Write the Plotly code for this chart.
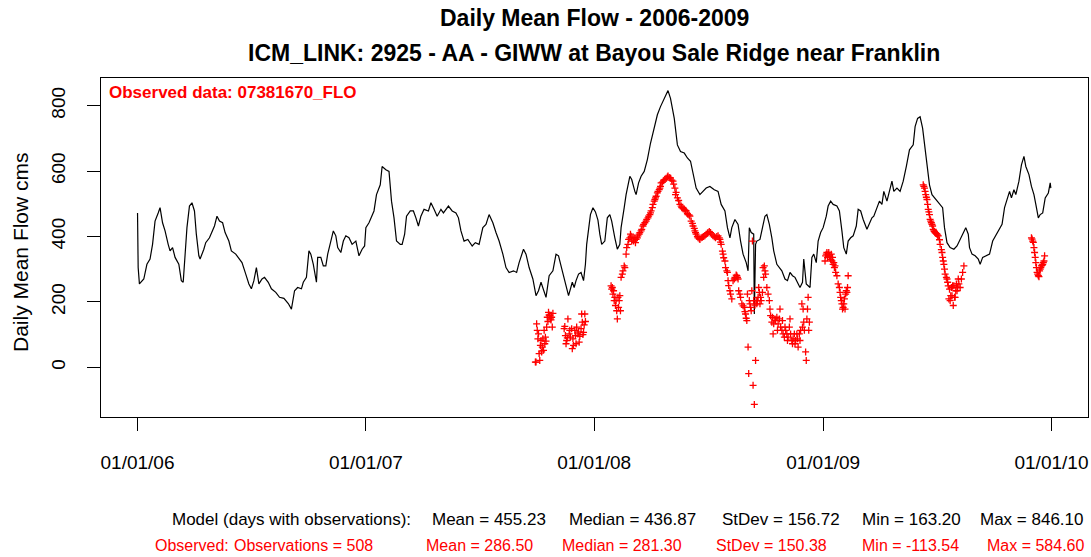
import pandas as pd
import plotly.graph_objects as go

# ---------------- data ----------------
start_date = "2006-01-01"

model_day = [0, 1, 3, 10, 15, 20, 24, 28, 33, 36, 40, 44, 49, 52, 56, 60, 66, 70, 73, 76,
             79, 83, 87, 91, 94, 98, 100, 106, 109, 115, 119, 123, 127, 131, 136, 140, 146, 150, 157, 163,
             167, 173, 178, 182, 186, 190, 194, 199, 203, 209, 214, 221, 227, 234, 241, 246, 251, 256, 262, 265,
             270, 274, 277, 281, 286, 288, 293, 297, 301, 304, 309, 313, 317, 320, 325, 329, 333, 338, 343, 349,
             354, 359, 363, 365, 370, 374, 378, 382, 388, 391, 397, 402, 406, 410, 414, 420, 423, 427, 430, 436,
             441, 445, 449, 453, 458, 465, 469, 474, 479, 485, 489, 497, 503, 509, 513, 517, 522, 528, 535, 540,
             546, 552, 557, 562, 568, 573, 578, 584, 589, 594, 601, 606, 610, 617, 621, 626, 632, 637, 641, 645,
             649, 653, 658, 664, 669, 673, 679, 684, 689, 695, 698, 701, 705, 709, 713, 716, 718, 724, 728, 732,
             736, 739, 742, 747, 751, 755, 758, 763, 767, 771, 773, 778, 781, 787, 790, 795, 797, 801, 805, 810,
             815, 820, 826, 831, 836, 843, 848, 852, 858, 863, 868, 874, 879, 884, 889, 893, 899, 904, 909, 915,
             922, 928, 933, 939, 943, 947, 950, 955, 960, 964, 968, 973, 976, 978, 981, 985, 986, 988, 990, 995,
             999, 1003, 1006, 1010, 1014, 1017, 1022, 1026, 1030, 1035, 1039, 1043, 1047, 1051, 1055, 1059, 1063, 1065, 1069, 1072,
             1075, 1078, 1081, 1085, 1088, 1092, 1096, 1101, 1104, 1108, 1112, 1118, 1122, 1126, 1129, 1133, 1136, 1140, 1144, 1149,
             1152, 1156, 1160, 1166, 1170, 1174, 1177, 1182, 1186, 1190, 1193, 1198, 1202, 1206, 1209, 1214, 1219, 1224, 1229, 1234,
             1240, 1243, 1247, 1251, 1255, 1258, 1262, 1266, 1270, 1274, 1278, 1283, 1287, 1290, 1294, 1299, 1305, 1310, 1315, 1321,
             1324, 1328, 1330, 1334, 1339, 1344, 1347, 1351, 1356, 1362, 1367, 1372, 1377, 1382, 1386, 1390, 1394, 1397, 1401, 1404,
             1409, 1413, 1417, 1420, 1425, 1429, 1433, 1436, 1440, 1443, 1447, 1451, 1456, 1459, 1460]

model_flow = [472, 305, 255, 270, 315, 331, 376, 447, 472, 488, 442, 417, 376, 356, 366, 336, 315, 265, 260, 336,
              427, 493, 503, 478, 407, 341, 331, 361, 381, 396, 412, 432, 462, 447, 442, 412, 386, 356, 346, 331,
              320, 285, 255, 240, 265, 305, 255, 270, 275, 260, 240, 229, 214, 211, 195, 178, 234, 244, 240, 260,
              275, 356, 346, 315, 260, 336, 336, 310, 310, 346, 386, 417, 402, 366, 351, 386, 402, 396, 376, 386,
              341, 361, 371, 427, 442, 462, 478, 528, 558, 614, 604, 599, 508, 457, 386, 376, 376, 407, 462, 478,
              478, 457, 432, 462, 483, 478, 503, 483, 462, 483, 472, 493, 478, 472, 457, 417, 386, 391, 371, 381,
              376, 427, 437, 467, 442, 412, 386, 346, 305, 290, 295, 290, 320, 361, 346, 305, 270, 219, 234, 260,
              240, 214, 280, 295, 346, 341, 295, 255, 219, 260, 244, 265, 285, 290, 265, 315, 376, 467, 488, 475,
              450, 407, 376, 386, 457, 467, 447, 396, 361, 376, 427, 488, 528, 584, 574, 538, 528, 564, 584, 599,
              635, 685, 731, 772, 797, 827, 846, 822, 761, 680, 660, 655, 640, 630, 589, 548, 528, 538, 548, 553,
              543, 538, 498, 478, 427, 396, 427, 452, 437, 386, 346, 320, 295, 427, 412, 407, 163, 376, 386, 391,
              422, 462, 467, 437, 396, 356, 315, 305, 295, 270, 265, 290, 280, 275, 260, 244, 260, 331, 255, 249,
              244, 336, 346, 320, 386, 412, 427, 462, 493, 508, 498, 493, 478, 417, 366, 346, 386, 396, 402, 432,
              483, 478, 452, 422, 437, 457, 462, 488, 508, 498, 538, 508, 543, 569, 538, 548, 538, 569, 614, 665,
              680, 736, 761, 766, 731, 680, 614, 558, 528, 518, 508, 498, 488, 427, 381, 366, 361, 371, 391, 412,
              427, 407, 366, 346, 341, 331, 315, 336, 341, 346, 386, 402, 422, 437, 488, 513, 538, 518, 543, 528,
              569, 619, 645, 614, 589, 553, 528, 498, 457, 467, 472, 518, 533, 564, 548]

obs_day = [636, 637, 638, 639, 640, 641, 642, 643, 644, 645, 646, 647, 648, 649, 650, 651, 652, 653, 654, 655,
           656, 657, 658, 659, 660, 661, 662, 663, 664,
           682, 683, 684, 685, 686, 687, 688, 690, 691, 692, 694, 695, 696, 697, 699, 700, 701, 702, 704, 705,
           706, 707, 709, 710, 711, 712, 713, 714, 715, 716,
           757, 758, 759, 760, 761, 762, 763, 764, 765, 766, 767, 768, 769, 770, 771, 772, 773, 775, 776, 778,
           779, 781, 782, 784, 785, 787, 788, 789, 790, 792, 793, 795, 796, 797, 799, 800, 802, 803, 805, 806,
           808, 809, 811, 813, 814, 816, 817, 819, 820, 821, 823, 824, 826, 827, 828, 829, 831, 832, 834, 835,
           836, 837, 839, 841, 843, 845, 847, 848, 850, 852, 854, 856, 857, 859, 860, 861, 863, 865, 867, 869,
           870, 872, 874, 876, 877, 879, 880, 882, 883, 885, 887, 888, 890, 891, 892, 893, 895, 896, 898, 899,
           901, 903, 905, 907, 909, 911, 912, 914, 916, 918, 920, 922, 924, 926, 928, 930, 931, 932, 933, 935,
           936, 937, 939, 940, 942, 943, 944, 945, 947, 948, 950, 952, 954, 955, 957, 958, 959, 960, 961, 963,
           964, 966, 968, 970, 971, 972, 973, 974, 975, 976, 977, 978, 979, 980, 981, 982, 983, 984, 985, 986,
           987, 988, 989, 990, 991, 992, 993, 994, 995, 996, 997, 999, 1000, 1001, 1002, 1003, 1004, 1006, 1008, 1010,
           1011, 1012, 1014, 1015, 1016, 1017, 1019, 1020, 1022, 1023, 1024, 1026, 1027, 1028, 1030, 1031, 1032, 1034, 1035, 1036,
           1038, 1039, 1040, 1042, 1043, 1044, 1046, 1047, 1048, 1050, 1051, 1052, 1054, 1055, 1056, 1058, 1059, 1060, 1062, 1063,
           1064, 1065, 1066, 1068, 1069, 1070, 1071, 1072, 1073, 1074,
           1099, 1100, 1101, 1102, 1103, 1104, 1105, 1106, 1107, 1108, 1109, 1110, 1111, 1112, 1113, 1114, 1115, 1116, 1118, 1120,
           1122, 1123, 1124, 1125, 1126, 1127, 1128, 1129, 1130, 1131, 1132, 1133, 1134, 1135, 1136,
           1256, 1257, 1258, 1259, 1260, 1261, 1262, 1263, 1264, 1265, 1266, 1267, 1268, 1269, 1270, 1271, 1272, 1273, 1274, 1275,
           1276, 1277, 1278, 1279, 1280, 1282, 1283, 1285, 1286, 1287, 1288, 1289, 1290, 1291, 1293, 1294, 1295, 1296, 1297, 1298,
           1299, 1300, 1301, 1302, 1303, 1304, 1305, 1306, 1307, 1308, 1309, 1310, 1311, 1312, 1313, 1315, 1317, 1319, 1321,
           1429, 1430, 1431, 1432, 1433, 1434, 1435, 1436, 1437, 1438, 1439, 1440, 1441, 1442, 1443, 1444, 1445, 1446, 1447, 1448,
           1449, 1450]

obs_flow = [16, 16, 133, 113, 87, 102, 42, 21, 67, 82, 47, 62, 87, 52, 113, 72, 92, 80, 123, 153,
            140, 168, 160, 158, 148, 145, 153, 123, 165,
            118, 125, 97, 72, 82, 90, 148, 102, 113, 92, 118, 57, 87, 67, 113, 97, 72, 123, 102, 108,
            77, 95, 118, 163, 138, 100, 107, 130, 163, 140,
            249, 239, 244, 224, 234, 204, 214, 189, 204, 173, 148, 214, 183, 204, 219, 173, 275, 285, 295, 310,
            305, 346, 366, 376, 391, 396, 407, 401, 386, 396, 386, 396, 381, 391, 396, 402, 407, 412, 417, 422,
            432, 437, 442, 447, 452, 457, 462, 467, 472, 478, 488, 498, 508, 513, 518, 523, 533, 538, 543, 548,
            553, 564, 566, 570, 574, 578, 582, 584.6, 580, 579, 572, 569, 560, 548, 528, 535, 518, 510, 498, 493,
            488, 485, 483, 480, 478, 470, 467, 465, 462, 447, 440, 432, 425, 417, 412, 407, 400, 396, 393, 391,
            396, 398, 400, 402, 407, 410, 412, 415, 412, 407, 402, 399, 396, 400, 402, 396, 391, 383, 376, 355,
            346, 335, 325, 305, 295, 290, 265, 250, 234, 224, 209, 265, 270, 275, 282, 280, 275, 270, 234, 224,
            214, 194, 188, 183, 170, 163, 150, 143, 224, 62, -19, 204, 194, 183, 173, 234, 386, -55, 204, -113.54,
            190, 21, 204, 194, 204, 214, 244, 229, 194, 214, 204, 229, 305, 275, 310, 295, 285, 244, 224, 204,
            178, 158, 138, 153, 102, 133, 148, 143, 153, 113, 133, 148, 178, 123, 113, 143, 102, 92, 123, 113,
            102, 82, 92, 123, 148, 102, 82, 72, 87, 102, 72, 82, 102, 87, 62, 102, 82, 113, 194, 123,
            178, 138, 113, 47, 21, 148, 178, 214, 113, 138,
            325, 341, 346, 351, 336, 346, 351, 341, 336, 330, 346, 325, 336, 315, 320, 305, 310, 290, 280, 255,
            244, 229, 214, 204, 194, 178, 183, 194, 209, 178, 224, 234, 229, 244, 280,
            558, 553, 548, 538, 528, 520, 513, 498, 483, 475, 467, 452, 447, 442, 437, 432, 422, 417, 415, 412,
            410, 409, 407, 404, 402, 390, 376, 360, 351, 336, 325, 315, 300, 285, 275, 270, 260, 249, 209, 239,
            204, 219, 244, 219, 249, 189, 249, 214, 214, 234, 255, 234, 244, 270, 255, 244, 270, 290, 310,
            396, 392, 386, 382, 366, 351, 336, 320, 305, 290, 285, 280, 277, 295, 300, 305, 310, 312, 315, 320,
            325, 341]

tick_dates = ["2006-01-01", "2007-01-01", "2008-01-01", "2009-01-01", "2010-01-01"]
tick_labels = ["01/01/06", "01/01/07", "01/01/08", "01/01/09", "01/01/10"]
y_ticks = [0, 200, 400, 600, 800]

title_1 = "Daily Mean Flow - 2006-2009"
title_2 = "ICM_LINK: 2925 - AA - GIWW at Bayou Sale Ridge near Franklin"
obs_label = "Observed data: 07381670_FLO"
y_title = "Daily Mean Flow cms"

model_stats = ["Model (days with observations):", "Mean = 455.23", "Median = 436.87",
               "StDev = 156.72", "Min = 163.20", "Max = 846.10"]
obs_stats = ["Observed:", "Observations = 508", "Mean = 286.50", "Median = 281.30",
             "StDev = 150.38", "Min = -113.54", "Max = 584.60"]

assert len(model_day) == len(model_flow)
assert len(obs_day) == len(obs_flow)

# ---------------- figure ----------------
t0 = pd.Timestamp(start_date)
model_x = t0 + pd.to_timedelta(model_day, unit="D")
obs_x = t0 + pd.to_timedelta(obs_day, unit="D")

W, H = 1091, 557
L, R, T, B = 101, 1088, 78, 417  # plot area in pixels

def fx(px):
    return (px - L) / (R - L)

def fy(py):
    return (B - py) / (B - T)

FONT = "Arial, Liberation Sans, sans-serif"

fig = go.Figure()
fig.add_trace(go.Scatter(x=model_x, y=model_flow, mode="lines",
                         line=dict(color="black", width=1.2), showlegend=False,
                         name="Model"))
fig.add_trace(go.Scatter(x=obs_x, y=obs_flow, mode="markers",
                         marker=dict(symbol="cross-thin", size=5, color="red",
                                     line=dict(color="red", width=1.3)),
                         showlegend=False, name="Observed"))

x_lo = pd.Timestamp("2006-01-01") - pd.Timedelta(days=58.4)
x_hi = pd.Timestamp("2010-01-01") + pd.Timedelta(days=58.4)

fig.update_layout(
    width=W, height=H,
    margin=dict(l=L, r=W - R, t=T, b=H - B, pad=0),
    paper_bgcolor="white", plot_bgcolor="white",
    font=dict(family=FONT, color="black", size=19),
    xaxis=dict(range=[x_lo, x_hi], tickmode="array", tickvals=tick_dates, ticktext=tick_labels,
               showgrid=False, zeroline=False, showline=True, mirror=True, linecolor="black",
               linewidth=1, ticks="outside", ticklen=13, tickwidth=1, tickcolor="black",
               ticklabelstandoff=15, tickfont=dict(size=19)),
    yaxis=dict(range=[-151.9, 884.5], tickmode="array", tickvals=y_ticks,
               showgrid=False, zeroline=False, showline=True, mirror=True, linecolor="black",
               linewidth=1, ticks="outside", ticklen=13, tickwidth=1, tickcolor="black",
               tickangle=-90, ticklabelstandoff=14, tickfont=dict(size=19)),
)

ann = []
ann.append(dict(text="<b>" + title_1 + "</b>", x=fx(594), y=fy(18), xref="paper", yref="paper",
                xanchor="center", yanchor="middle", showarrow=False, font=dict(size=23, color="black")))
ann.append(dict(text="<b>" + title_2 + "</b>", x=fx(594), y=fy(53), xref="paper", yref="paper",
                xanchor="center", yanchor="middle", showarrow=False, font=dict(size=23, color="black")))
ann.append(dict(text="<b>" + obs_label + "</b>", x=fx(107), y=fy(93), xref="paper", yref="paper",
                xanchor="left", yanchor="middle", showarrow=False, font=dict(size=17, color="red")))
ann.append(dict(text=y_title, x=fx(20), y=fy(252), xref="paper", yref="paper", textangle=-90,
                xanchor="center", yanchor="middle", showarrow=False, font=dict(size=21, color="black")))

model_x_pos = [170, 430, 567, 720, 860, 978]
obs_x_pos = [153, 232, 424, 560, 714, 860, 985]
for txt, px in zip(model_stats, model_x_pos):
    ann.append(dict(text=txt, x=fx(px), y=fy(519), xref="paper", yref="paper",
                    xanchor="left", yanchor="middle", showarrow=False,
                    font=dict(size=17, color="black")))
for txt, px in zip(obs_stats, obs_x_pos):
    ann.append(dict(text=txt, x=fx(px), y=fy(545), xref="paper", yref="paper",
                    xanchor="left", yanchor="middle", showarrow=False,
                    font=dict(size=16, color="red")))
fig.update_layout(annotations=ann)

fig.write_html("out.html", config={"displayModeBar": False},
               post_script="document.body.style.margin='0px';")
